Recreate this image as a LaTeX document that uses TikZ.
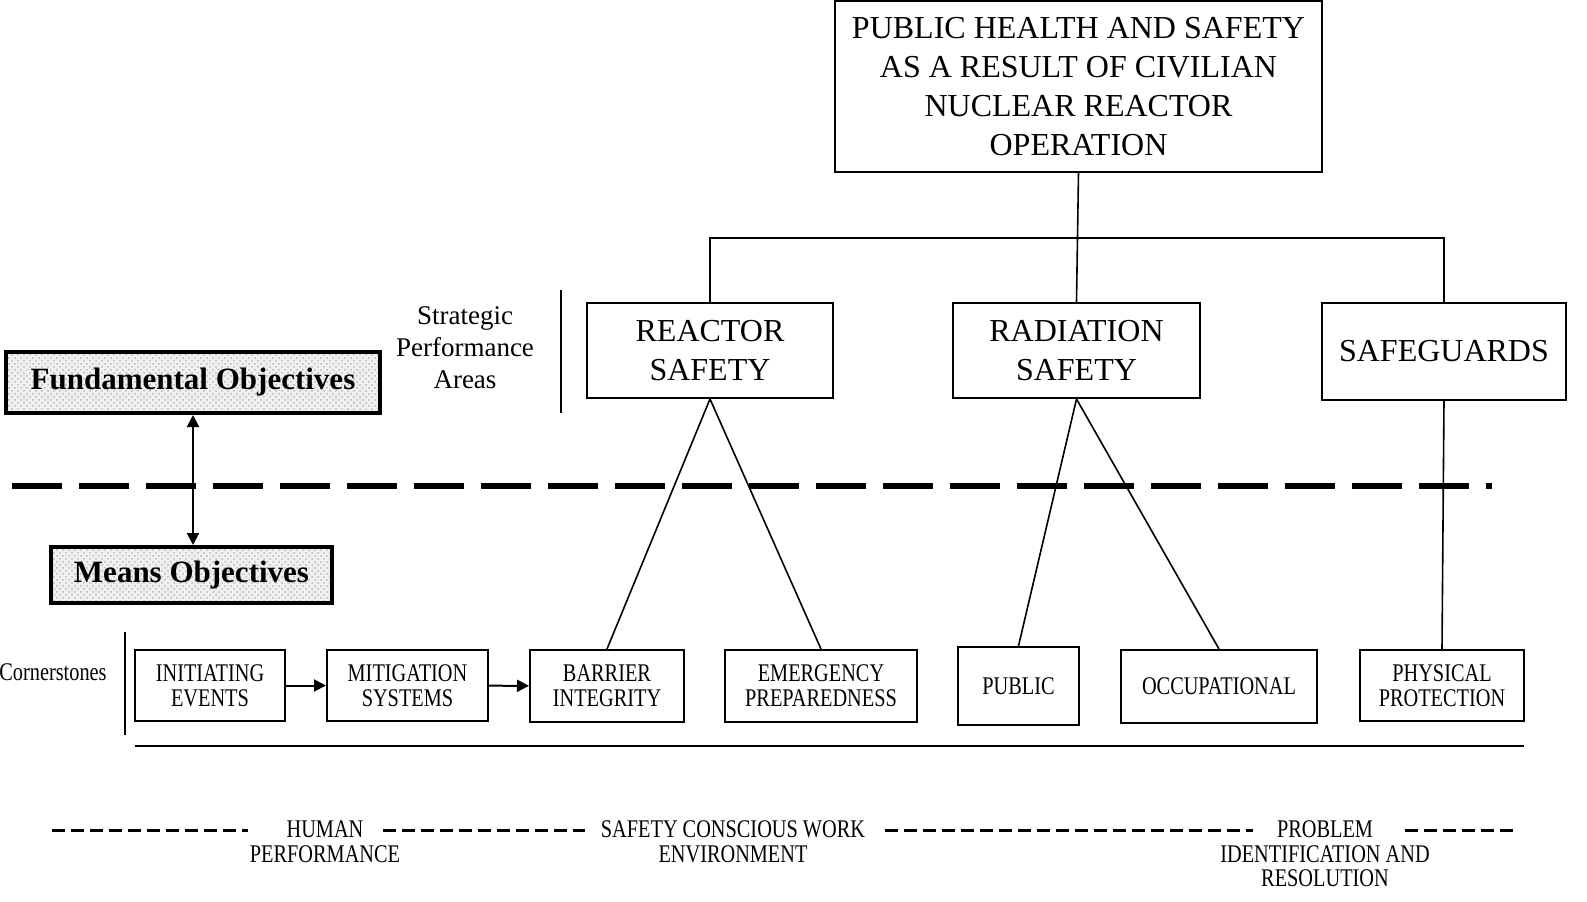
\documentclass[tikz,border=0pt]{standalone}
\usepackage{fontspec}
\setmainfont{Liberation Serif}
\newfontfamily\narrow[FakeStretch=0.8]{Liberation Serif}
\usetikzlibrary{arrows.meta,patterns}
\begin{document}
\begin{tikzpicture}[x=1pt,y=-1pt,scale=0.5,
  bigbox/.style={draw,line width=1pt,inner sep=0pt,align=center,font=\fontsize{16}{19.5}\selectfont},
  cbox/.style={draw,line width=1pt,inner sep=0pt,align=center,font=\narrow\fontsize{12.7}{12.7}\selectfont},
  objbox/.style={draw,line width=2pt,inner sep=0pt,font=\bfseries\fontsize{15.5}{18}\selectfont,
    preaction={fill=gray!12},pattern=crosshatch dots,pattern color=gray!55},
  note/.style={align=center,font=\narrow\fontsize{12.7}{12.3}\selectfont},
  tip/.style={-{Triangle[length=6pt,width=6pt]},line width=1pt}]
\useasboundingbox (0,0) rectangle (1587,901);
\draw (1078.5,86.5) node[bigbox,minimum width=243.5pt,minimum height=85.5pt] (phs) {PUBLIC HEALTH AND SAFETY\\AS A RESULT OF CIVILIAN\\NUCLEAR REACTOR\\OPERATION};
\draw (710,350.5) node[bigbox,minimum width=123pt,minimum height=47.5pt] (reactor) {REACTOR\\SAFETY};
\draw (1076.5,350.5) node[bigbox,minimum width=123.5pt,minimum height=47.5pt] (radiation) {RADIATION\\SAFETY};
\draw (1444,351.5) node[bigbox,minimum width=122pt,minimum height=48.5pt] (safeguards) {SAFEGUARDS};
\coordinate (bus) at (1078,238);
\draw[line width=0.8pt] (phs.south) -- (radiation.north);
\draw[line width=0.8pt] (reactor.north) |- (bus) -| (safeguards.north);
\draw (465,348) node[align=center,font=\fontsize{13.5}{16}\selectfont] (spa) {Strategic\\Performance\\Areas};
\draw[line width=1pt] (561,290) -- (561,413);
\draw (193,382.5) node[objbox,minimum width=187pt,minimum height=30.5pt] (fundobj) {Fundamental Objectives};
\draw (191.5,575) node[objbox,minimum width=140.5pt,minimum height=28pt] (meansobj) {Means Objectives};
\draw[{Triangle[length=6pt,width=6pt]}-{Triangle[length=6pt,width=6pt]},line width=1pt] (fundobj.south) -- (fundobj.south |- meansobj.north);
\draw[line width=3pt,dash pattern=on 25pt off 8.5pt] (12,486) -- (1492,486);
\draw (53,672) node[note] (cornerstones) {Cornerstones};
\draw[line width=1pt] (125,632) -- (125,735);
\draw (210,685.5) node[cbox,minimum width=75pt,minimum height=35.5pt] (initiating) {INITIATING\\EVENTS};
\draw (407.5,685.5) node[cbox,minimum width=80.5pt,minimum height=35.5pt] (mitigation) {MITIGATION\\SYSTEMS};
\draw (607,686) node[cbox,minimum width=77pt,minimum height=36pt] (barrier) {BARRIER\\INTEGRITY};
\draw (821,686) node[cbox,minimum width=96pt,minimum height=36pt] (emergency) {EMERGENCY\\PREPAREDNESS};
\draw (1018.5,686) node[cbox,minimum width=60.5pt,minimum height=39pt] (public) {PUBLIC};
\draw (1219,686.5) node[cbox,minimum width=98pt,minimum height=36.5pt] (occupational) {OCCUPATIONAL};
\draw (1442,685.5) node[cbox,minimum width=82pt,minimum height=35.5pt] (physical) {PHYSICAL\\PROTECTION};
\draw[tip] (initiating) -- (mitigation);
\draw[tip] (mitigation) -- (barrier);
\draw[line width=0.8pt] (reactor.south) -- (barrier.north);
\draw[line width=0.8pt] (reactor.south) -- (emergency.north);
\draw[line width=0.8pt] (radiation.south) -- (public.north);
\draw[line width=0.8pt] (radiation.south) -- (occupational.north);
\draw[line width=0.8pt] (safeguards.south) -- (physical.north);
\draw[line width=1.2pt] (135,746) -- (1524,746);
\draw (325,842) node[note] (hp) {HUMAN\\PERFORMANCE};
\draw (733,842) node[note] (scwe) {SAFETY CONSCIOUS WORK\\ENVIRONMENT};
\draw (1325,854) node[note] (pir) {PROBLEM\\IDENTIFICATION AND\\RESOLUTION};
\draw[line width=1.5pt,dash pattern=on 6.5pt off 3pt] (52,830) -- (248,830);
\draw[line width=1.5pt,dash pattern=on 6.5pt off 3pt] (383,830) -- (585,830);
\draw[line width=1.5pt,dash pattern=on 6.5pt off 3pt] (885,830) -- (1253,830);
\draw[line width=1.5pt,dash pattern=on 6.5pt off 3pt] (1405,830) -- (1515,830);
\end{tikzpicture}
\end{document}
